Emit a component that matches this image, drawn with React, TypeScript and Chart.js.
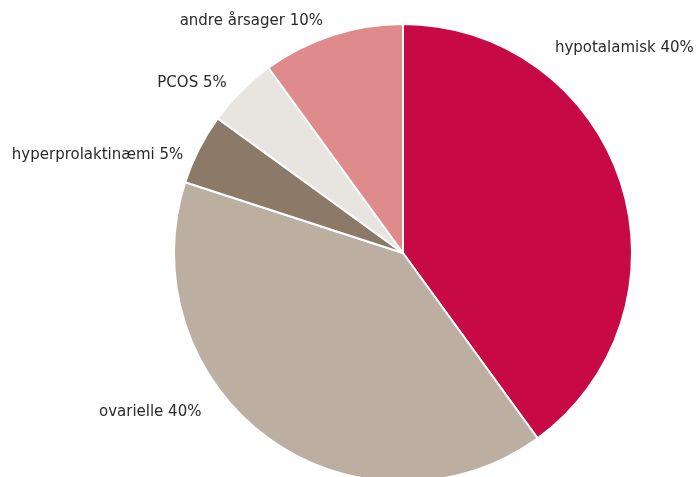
import React, { useEffect, useRef } from "react";
import { Chart, registerables } from "chart.js";

Chart.register(...registerables);

const categories = ["hypotalamisk", "ovarielle", "hyperprolaktinæmi", "PCOS", "andre årsager"];
const values = [40, 40, 5, 5, 10];
const colors = ["#C70A46", "#BCAEA1", "#8B7A67", "#E8E4DF", "#E08B8B"];

// label placement: angle from top (deg, clockwise) and distance as fraction of radius
const labelAngles = [36.5, 231.8, 294, 314, 341];
const labelDistances = [1.115, 1.12, 1.05, 1.07, 1.072];

const labelPlugin = {
  id: "pieLabels",
  afterDatasetsDraw(chart: any) {
    const meta = chart.getDatasetMeta(0);
    const ctx = chart.ctx;
    ctx.save();
    ctx.font = "15px 'DejaVu Sans'";
    ctx.fillStyle = "#2a2a2a";
    ctx.textBaseline = "middle";
    meta.data.forEach((arc: any, i: number) => {
      const { x, y, outerRadius } = arc.getProps(["x", "y", "outerRadius"], true);
      const a = (labelAngles[i] * Math.PI) / 180;
      const r = outerRadius * labelDistances[i];
      const lx = x + r * Math.sin(a);
      const ly = y - r * Math.cos(a);
      ctx.textAlign = Math.sin(a) >= 0 ? "left" : "right";
      ctx.fillText(`${categories[i]} ${values[i]}%`, lx, ly);
    });
    ctx.restore();
  },
};

export default function App() {
  const ref = useRef<HTMLCanvasElement>(null);
  useEffect(() => {
    document.body.style.margin = "0";
    const chart = new Chart(ref.current!, {
      type: "pie",
      data: {
        labels: categories,
        datasets: [
          {
            data: values,
            backgroundColor: colors,
            borderColor: "#ffffff",
            borderWidth: 2,
          },
        ],
      },
      options: {
        responsive: false,
        animation: false,
        layout: { padding: { left: 173, right: 63, top: 23, bottom: 37 } },
        plugins: { legend: { display: false }, tooltip: { enabled: false } },
      },
      plugins: [labelPlugin],
    });
    return () => chart.destroy();
  }, []);
  return (
    <div style={{ position: "fixed", left: 0, top: 0, width: 696, height: 477, overflow: "hidden", background: "#fff" }}>
      <canvas ref={ref} width={696} height={520} style={{ display: "block" }} />
    </div>
  );
}
